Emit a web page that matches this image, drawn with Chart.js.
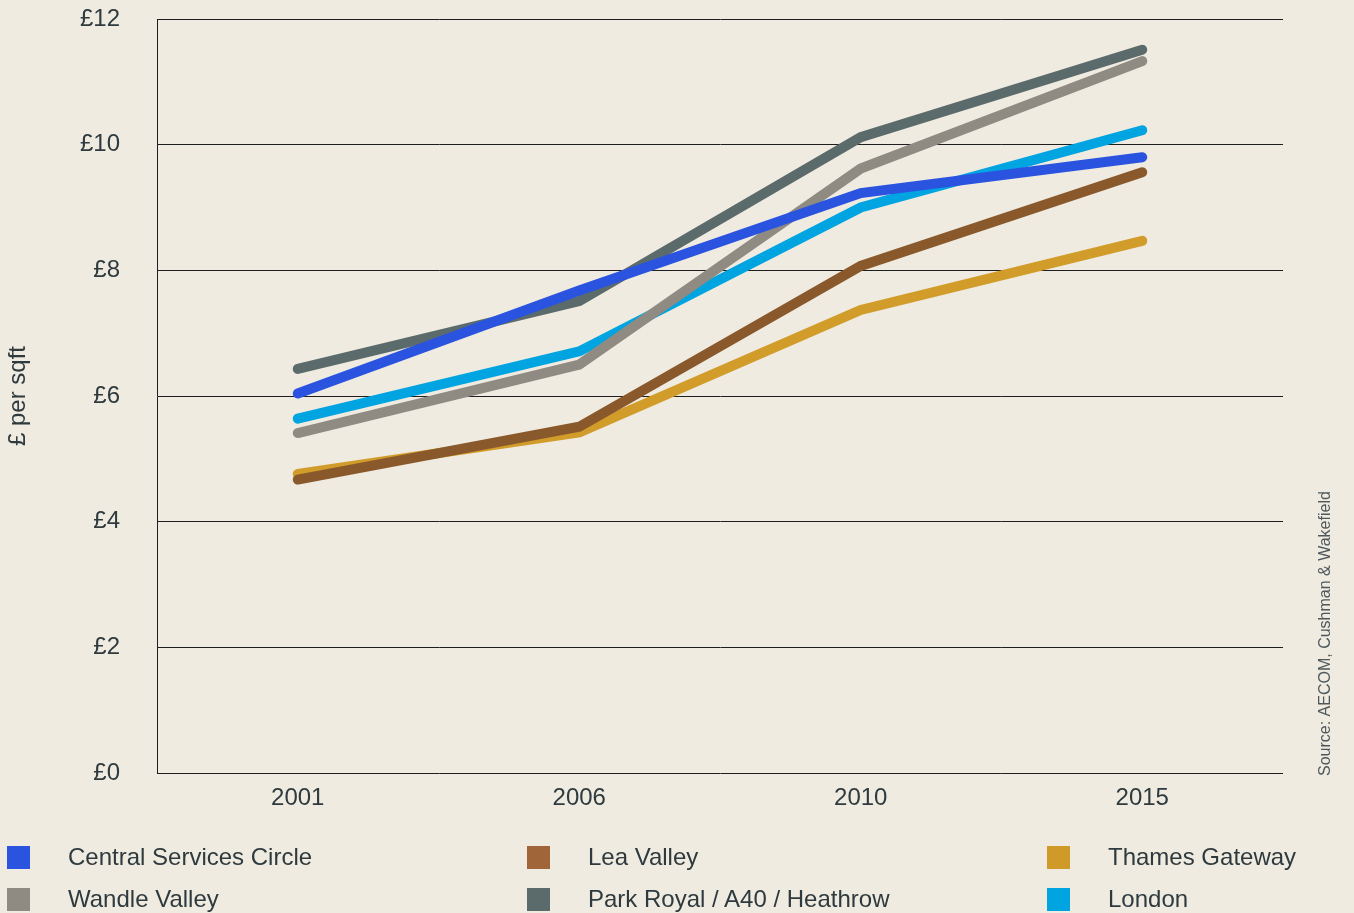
<!DOCTYPE html>
<html>
<head>
<meta charset="utf-8">
<script src="https://cdn.jsdelivr.net/npm/chart.js@4/dist/chart.umd.min.js"></script>
<style>
  html, body { margin: 0; padding: 0; background: #EFEBE1; }
  #wrap { position: relative; width: 1354px; height: 913px; overflow: hidden; }
  #chart { position: absolute; left: 0; top: 0; }
  #legend { position: absolute; left: 0; top: 0; width: 1354px; height: 913px; pointer-events: none;
            font-family: "Liberation Sans", Arial, sans-serif; font-size: 24px; color: #2E3A3E; }
  .item { position: absolute; height: 24px; display: flex; align-items: center; white-space: nowrap; }
  .swatch { width: 23px; height: 23px; margin-right: 38px; flex: none; }
</style>
</head>
<body>
<div id="wrap">
  <canvas id="chart" width="1354" height="913"></canvas>
  <div id="legend"></div>
</div>
<script>
// Industrial rents, £ per sq ft, by area
const years = ['2001', '2006', '2010', '2015'];
const centralServicesCircle = [6.04, 7.68, 9.23, 9.80];
const leaValley = [4.67, 5.51, 8.07, 9.56];
const thamesGateway = [4.76, 5.42, 7.37, 8.47];
const wandleValley = [5.41, 6.50, 9.62, 11.33];
const parkRoyal = [6.43, 7.51, 10.12, 11.51];
const london = [5.64, 6.71, 9.00, 10.23];
const yTickValues = [0, 2, 4, 6, 8, 10, 12];
const sourceNote = 'Source: AECOM, Cushman & Wakefield';

const FONT = '"Liberation Sans", Arial, sans-serif';
const INK = '#2E3A3E';
const RULE = '#1E1E1E';

function series(label, data, line, swatch) {
  return {
    label, data,
    borderColor: line,
    backgroundColor: swatch,
    borderWidth: 10,
    borderCapStyle: 'round',
    borderJoinStyle: 'miter',
    pointRadius: 0,
    pointHoverRadius: 0,
    tension: 0,
    fill: false
  };
}

const datasets = [
  series('Central Services Circle', centralServicesCircle, '#2A54E0', '#2A54E0'),
  series('Lea Valley', leaValley, '#8A592B', '#A0663A'),
  series('Thames Gateway', thamesGateway, '#D19C2A', '#D09A28'),
  series('Wandle Valley', wandleValley, '#8F8B83', '#8F8B83'),
  series('Park Royal / A40 / Heathrow', parkRoyal, '#5B6A6A', '#5B6A6A'),
  series('London', london, '#00A4E0', '#00A4E0')
];

// Rotated source credit at the right edge
const sourcePlugin = {
  id: 'sourceNote',
  afterDraw(chart) {
    const ctx = chart.ctx;
    ctx.save();
    ctx.translate(1326, 776);
    ctx.rotate(-Math.PI / 2);
    ctx.font = '16px ' + FONT;
    ctx.fillStyle = '#4E585B';
    ctx.textAlign = 'left';
    ctx.textBaseline = 'middle';
    ctx.fillText(sourceNote, 0, 0);
    ctx.restore();
  }
};

const chart = new Chart(document.getElementById('chart'), {
  type: 'line',
  data: { labels: years, datasets },
  plugins: [sourcePlugin],
  options: {
    responsive: false,
    devicePixelRatio: 1,
    animation: false,
    layout: { padding: { left: 0, right: 71, top: 19, bottom: 100 } },
    plugins: { legend: { display: false }, tooltip: { enabled: false } },
    scales: {
      x: {
        offset: true,
        grid: { display: false, drawTicks: false },
        border: { display: false },
        ticks: { color: INK, font: { family: FONT, size: 24 }, padding: 11 },
        afterFit(scale) { scale.height = 40; scale.paddingLeft = 0; scale.paddingRight = 0; }
      },
      y: {
        min: 0,
        max: 12,
        afterBuildTicks(scale) { scale.ticks = yTickValues.map(v => ({ value: v })); },
        ticks: {
          color: INK,
          font: { family: FONT, size: 24 },
          padding: 37,
          callback: v => '£' + v
        },
        grid: { color: RULE, lineWidth: 1, drawTicks: false },
        border: { display: true, color: RULE, width: 1 },
        title: {
          display: true,
          text: '£ per sqft',
          color: INK,
          font: { family: FONT, size: 24 },
          padding: { top: 4, bottom: 0 }
        },
        afterFit(scale) {
          scale.width = 157;
          scale.paddingTop = 0;
          scale.paddingBottom = 0;
        }
      }
    }
  }
});

// Legend in three columns, two rows, built from the datasets
const legend = document.getElementById('legend');
const colX = [7, 527, 1047];
const rowY = [845, 887];
chart.data.datasets.forEach((ds, i) => {
  const item = document.createElement('div');
  item.className = 'item';
  item.style.left = colX[i % 3] + 'px';
  item.style.top = rowY[Math.floor(i / 3)] + 'px';
  const sw = document.createElement('span');
  sw.className = 'swatch';
  sw.style.background = ds.backgroundColor;
  const txt = document.createElement('span');
  txt.textContent = ds.label;
  item.appendChild(sw);
  item.appendChild(txt);
  legend.appendChild(item);
});
</script>
</body>
</html>
